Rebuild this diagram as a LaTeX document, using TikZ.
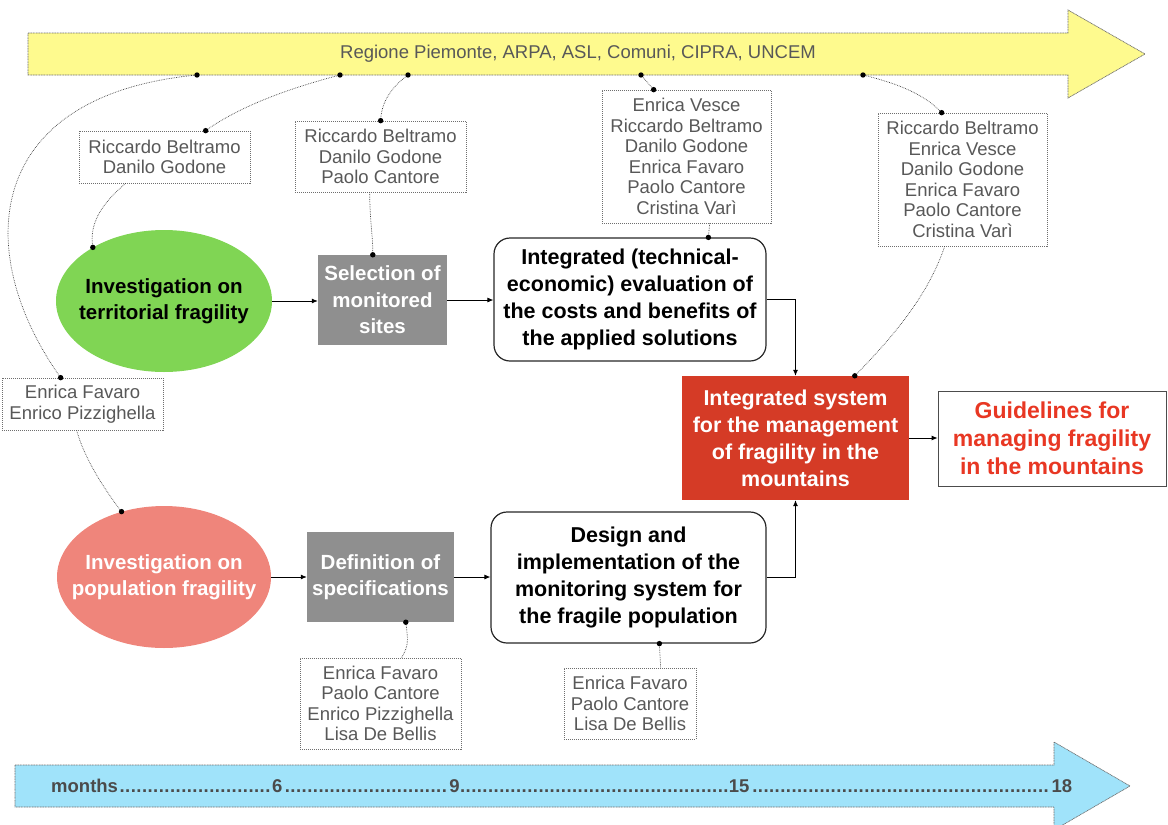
\documentclass[tikz,border=0pt]{standalone}
\usepackage{fontspec}
\setmainfont{Liberation Sans}
\usetikzlibrary{arrows.meta,shapes.geometric,calc}

\definecolor{barYellow}{RGB}{254,250,142}
\definecolor{barBlue}{RGB}{160,227,250}
\definecolor{leafGreen}{RGB}{128,213,84}
\definecolor{salmonPink}{RGB}{239,133,123}
\definecolor{boxGray}{RGB}{143,143,143}
\definecolor{sysRed}{RGB}{213,59,38}
\definecolor{guideRed}{RGB}{232,55,35}
\definecolor{nameGray}{RGB}{88,88,88}
\definecolor{lineGray}{RGB}{110,110,110}

% a run of evenly spaced full stops filling a given width
\newcommand{\monthdots}[1]{\hbox to #1{\cleaders\hbox to 5.6pt{\hss.\hss}\hfill}}

\begin{document}
\begin{tikzpicture}[x=1pt,y=-1pt,
  names/.style={draw=lineGray, dash pattern=on 1pt off 1pt, line width=0.7pt,
    text=nameGray, font=\fontsize{18.5}{20.5}\selectfont, align=center, inner sep=0pt},
  task/.style={font=\bfseries\fontsize{20.5}{26.5}\selectfont, align=center, inner sep=0pt},
  bigtask/.style={font=\bfseries\fontsize{21.5}{27}\selectfont, align=center, inner sep=0pt},
  roundbox/.style={bigtask, draw=black!85, line width=1.2pt, rounded corners=16pt},
  oval/.style={ellipse, inner sep=0pt, minimum width=216, minimum height=142},
  link/.style={black!75, densely dotted, line width=0.7pt},
  flow/.style={-{Latex[length=6pt,width=5pt]}, line width=0.8pt},
  bar/.style={draw=lineGray, dash pattern=on 1pt off 0.6pt, line width=0.7pt}]

\useasboundingbox (0,0) rectangle (1168,825);

% partners arrow on top
\draw[bar, fill=barYellow] (28,33) -- (1068,33) -- (1068,10) -- (1145,54)
  -- (1068,98) -- (1068,75) -- (28,75) -- cycle;
\node[text=nameGray, font=\fontsize{18.5}{20.5}\selectfont] (partners) at (578,54)
  {Regione Piemonte, ARPA, ASL, Comuni, CIPRA, UNCEM};

% timeline arrow at the bottom
\draw[bar, fill=barBlue] (15,765) -- (1054,765) -- (1054,742) -- (1130,786)
  -- (1054,830) -- (1054,807) -- (15,807) -- cycle;
\node[anchor=west, inner sep=0pt, text=nameGray!85!black,
  font=\bfseries\fontsize{18.5}{20.5}\selectfont] (timeline) at (51,786)
  {months\monthdots{154pt}6\monthdots{167pt}9\monthdots{269pt}15\monthdots{302pt}18};

% people
\node[names, minimum width=171, minimum height=52] (rb1) at (164.5,157) {Riccardo Beltramo\\Danilo Godone};
\node[names, minimum width=171, minimum height=71] (rb2) at (380.5,156.5) {Riccardo Beltramo\\Danilo Godone\\Paolo Cantore};
\node[names, minimum width=169, minimum height=133] (rb3) at (686.5,156.5) {Enrica Vesce\\Riccardo Beltramo\\Danilo Godone\\Enrica Favaro\\Paolo Cantore\\Cristina Varì};
\node[names, minimum width=169, minimum height=133] (rb4) at (962.5,179.5) {Riccardo Beltramo\\Enrica Vesce\\Danilo Godone\\Enrica Favaro\\Paolo Cantore\\Cristina Varì};
\node[names, minimum width=161, minimum height=52] (fp) at (82.5,404) {Enrica Favaro\\Enrico Pizzighella};
\node[names, minimum width=161, minimum height=91] (rb6) at (380.5,703.5) {Enrica Favaro\\Paolo Cantore\\Enrico Pizzighella\\Lisa De Bellis};
\node[names, minimum width=132, minimum height=71] (rb7) at (630,703.5) {Enrica Favaro\\Paolo Cantore\\Lisa De Bellis};

% activities
\node[oval, fill=leafGreen] (terr) at (164,301) {};
\node[task] (terrText) at (terr.center) {Investigation on\\territorial fragility};
\node[task, fill=boxGray, text=white, minimum width=129, minimum height=90] (sel) at (382.5,300)
  {Selection of\\monitored\\sites};
\node[roundbox, minimum width=272, minimum height=123] (integ) at (630,299.5)
  {Integrated (technical-\\economic) evaluation of\\the costs and benefits of\\the applied solutions};
\node[oval, fill=salmonPink, minimum width=214] (pop) at (164,577) {};
\node[task, text=white] (popText) at (pop.center) {Investigation on\\population fragility};
\node[task, fill=boxGray, text=white, minimum width=147, minimum height=90] (def) at (380.5,577)
  {Definition of\\specifications};
\node[roundbox, minimum width=275, minimum height=131] (design) at (628.5,577.5)
  {Design and\\implementation of the\\monitoring system for\\the fragile population};
\node[bigtask, fill=sysRed, text=white, minimum width=227, minimum height=124] (red) at (795.5,438)
  {Integrated system\\for the management\\of fragility in the\\mountains};
\node[font=\bfseries\fontsize{23}{28}\selectfont, align=center, inner sep=0pt, text=guideRed,
  draw=black!70, line width=0.8pt, minimum width=228, minimum height=95] (guide) at (1052,438.5)
  {Guidelines for\\managing fragility\\in the mountains};

% work flow
\draw[flow] (terr.east) -- (terr.east -| sel.west);
\draw[flow] (sel.east) -- (sel.east -| integ.west);
\draw[flow] (integ.east) -| (red.north);
\draw[flow] (pop.east) -- (pop.east -| def.west);
\draw[flow] (def.east) -- (def.east -| design.west);
\draw[flow] (design.east) -| (red.south);
\draw[flow] (red.east) -- (red.east -| guide.west);

% attachment points
\coordinate (ya) at (197,75);
\coordinate (yb) at (340,75);
\coordinate (yc) at (408,75);
\coordinate (yd) at (641,75);
\coordinate (ye) at (863,75);
\coordinate (fpTop) at ($(fp.north west)+(59,0)$);
\coordinate (fpBot) at ($(fp.south west)+(75,0)$);
\coordinate (rb1Top) at ($(rb1.north west)+(127,0)$);
\coordinate (rb1Bot) at ($(rb1.south west)+(47,0)$);
\coordinate (rb2Top) at ($(rb2.north west)+(86,0)$);
\coordinate (rb2Bot) at ($(rb2.south west)+(75,0)$);
\coordinate (selTop) at ($(sel.north west)+(55,0)$);
\coordinate (rb3Top) at ($(rb3.north west)+(52,0)$);
\coordinate (rb3Bot) at ($(rb3.south west)+(108,0)$);
\coordinate (integTop) at ($(integ.north west)+(215,0)$);
\coordinate (rb4Top) at ($(rb4.north west)+(64,0)$);
\coordinate (rb4Bot) at ($(rb4.south west)+(67,0)$);
\coordinate (redTop) at ($(red.north west)+(173,0)$);
\coordinate (terrPin) at (terr.143);
\coordinate (popPin) at (pop.123);
\coordinate (defBot) at ($(def.south west)+(99,0)$);
\coordinate (rb6Top) at ($(rb6.north west)+(102,0)$);
\coordinate (designBot) at ($(design.south west)+(169,0)$);
\coordinate (rb7Top) at ($(rb7.north west)+(97,0)$);

% people links
\draw[link] (ya) .. controls (-15,95) and (-30,250) .. (fpTop);
\draw[link] (yb) .. controls (290,88) and (240,106) .. (rb1Top);
\draw[link] (rb1Bot) .. controls (100,205) and (89,225) .. (terrPin);
\draw[link] (yc) .. controls (390,88) and (381,104) .. (rb2Top);
\draw[link] (rb2Bot) .. controls (370,225) and (373,235) .. (selTop);
\draw[link] (yd) -- (rb3Top);
\draw[link] (rb3Bot) -- (integTop);
\draw[link] (ye) .. controls (900,84) and (925,95) .. (rb4Top);
\draw[link] (rb4Bot) .. controls (930,290) and (900,330) .. (redTop);
\draw[link] (fpBot) .. controls (85,460) and (105,490) .. (popPin);
\draw[link] (defBot) .. controls (408,640) and (409,645) .. (rb6Top);
\draw[link] (designBot) -- (rb7Top);

\foreach \p in {ya,yb,yc,yd,ye,fpTop,rb1Top,rb2Top,rb3Top,rb4Top,
                terrPin,selTop,integTop,redTop,popPin,defBot,designBot}
  \fill (\p) circle (2.7pt);

\end{tikzpicture}
\end{document}
